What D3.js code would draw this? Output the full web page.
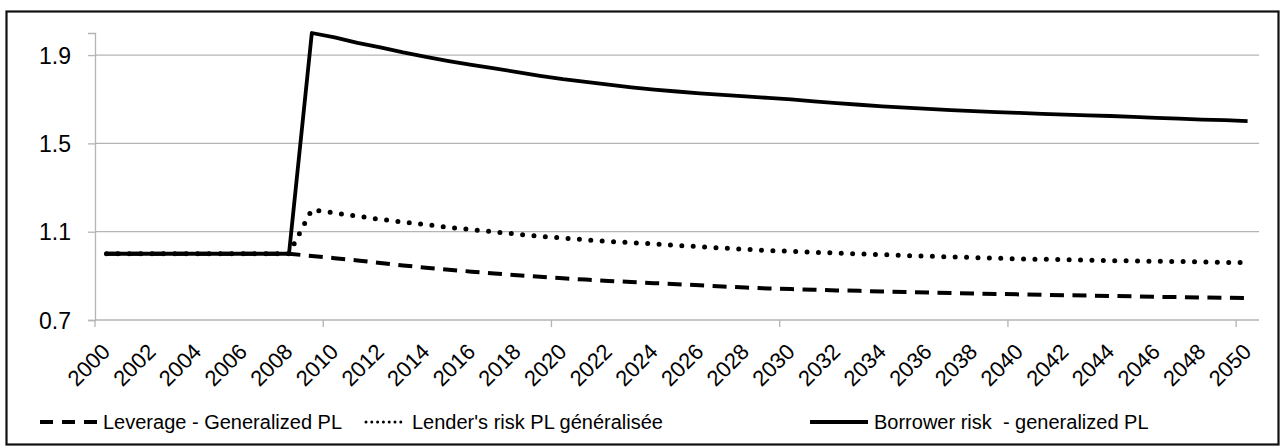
<!DOCTYPE html>
<html>
<head>
<meta charset="utf-8">
<script src="https://cdn.jsdelivr.net/npm/d3@7/dist/d3.min.js"></script>
<style>
  body { margin: 0; background: #fff; }
  svg text { font-family: "Liberation Sans", Arial, sans-serif; fill: #000; }
</style>
</head>
<body>
<svg id="chart" width="1280" height="446"></svg>
<script>
const years = d3.range(2000, 2051);
const yTicks = [0.7, 1.1, 1.5, 1.9];
const xLabelYears = years.filter(y => y % 2 === 0);
const xTickYears = [2000, 2010, 2020, 2030, 2040, 2050];

const leverage = [1, 1, 1, 1, 1, 1, 1, 1, 1,
  0.990, 0.980, 0.970, 0.958, 0.947, 0.937, 0.928, 0.919, 0.911, 0.903,
  0.896, 0.889, 0.883, 0.877, 0.872, 0.867, 0.862, 0.857, 0.852, 0.847,
  0.843, 0.840, 0.837, 0.834, 0.832, 0.829, 0.827, 0.825, 0.822, 0.820,
  0.818, 0.816, 0.814, 0.812, 0.811, 0.809, 0.807, 0.805, 0.804, 0.802,
  0.801, 0.799];
const lender = [1, 1, 1, 1, 1, 1, 1, 1, 1,
  1.200, 1.185, 1.170, 1.156, 1.143, 1.132, 1.120, 1.109, 1.099, 1.089,
  1.079, 1.071, 1.063, 1.056, 1.050, 1.045, 1.038, 1.032, 1.026, 1.020,
  1.015, 1.011, 1.007, 1.003, 0.999, 0.996, 0.992, 0.989, 0.986, 0.983,
  0.980, 0.977, 0.975, 0.973, 0.971, 0.969, 0.968, 0.966, 0.965, 0.963,
  0.961, 0.960];
const borrower = [1, 1, 1, 1, 1, 1, 1, 1, 1,
  2.000, 1.980, 1.955, 1.935, 1.912, 1.892, 1.873, 1.856, 1.840, 1.823,
  1.806, 1.791, 1.779, 1.766, 1.754, 1.744, 1.735, 1.727, 1.720, 1.713,
  1.706, 1.699, 1.690, 1.682, 1.675, 1.668, 1.662, 1.656, 1.651, 1.646,
  1.642, 1.638, 1.634, 1.630, 1.627, 1.624, 1.620, 1.616, 1.612, 1.608,
  1.605, 1.601];

const seriesNames = ["Leverage - Generalized PL", "Lender's risk PL généralisée", "Borrower risk  - generalized PL"];

const series = [
  { name: seriesNames[0], values: leverage, dash: "14 8.5", width: 4, cap: "butt",
    legDash: "13 9", legWidth: 3.8, legX: 40, legLen: 57 },
  { name: seriesNames[1], values: lender, dash: "0 11.4", width: 5, cap: "round",
    legDash: "0 5.8", legWidth: 3, legX: 366, legLen: 40 },
  { name: seriesNames[2], values: borrower, dash: null, width: 3.8, cap: "butt",
    legDash: null, legWidth: 3.8, legX: 810, legLen: 58 }
];

const svg = d3.select("#chart");
const plotLeft = 95, plotRight = 1259, plotTop = 33, plotBottom = 320;

const x = d3.scaleBand().domain(years).range([plotLeft, plotRight]);
const y = d3.scaleLinear().domain([0.7, 2.0]).range([plotBottom, plotTop]);
const cx = yr => x(yr) + x.bandwidth() / 2;

// outer border
svg.append("rect")
  .attr("x", 6.5).attr("y", 11.5)
  .attr("width", 1272).attr("height", 433)
  .attr("fill", "none").attr("stroke", "#111").attr("stroke-width", 2.2);

// gridlines
svg.append("g")
  .selectAll("line")
  .data(yTicks.filter(d => d > 0.7))
  .enter().append("line")
  .attr("x1", plotLeft).attr("x2", plotRight)
  .attr("y1", d => y(d)).attr("y2", d => y(d))
  .attr("stroke", "#b4b4b4").attr("stroke-width", 1.3);

// y axis
const yAxis = svg.append("g")
  .attr("transform", `translate(${plotLeft},0)`)
  .call(d3.axisLeft(y).tickValues(yTicks).tickSize(7).tickPadding(17).tickFormat(d3.format(".1f")));
yAxis.select(".domain").attr("stroke", "#b4b4b4").attr("stroke-width", 1.3);
yAxis.selectAll(".tick line").attr("stroke", "#b4b4b4").attr("stroke-width", 1.3);
yAxis.selectAll("text").style("font-size", "23px").attr("dy", "0.35em");

// x axis line and tick marks
svg.append("line")
  .attr("x1", plotLeft).attr("x2", plotRight)
  .attr("y1", plotBottom).attr("y2", plotBottom)
  .attr("stroke", "#b4b4b4").attr("stroke-width", 1.3);
svg.append("g")
  .selectAll("line")
  .data(xTickYears)
  .enter().append("line")
  .attr("x1", d => x(d)).attr("x2", d => x(d))
  .attr("y1", plotBottom).attr("y2", plotBottom + 7)
  .attr("stroke", "#b4b4b4").attr("stroke-width", 1.3);

// x labels, rotated
svg.append("g")
  .selectAll("text")
  .data(xLabelYears)
  .enter().append("text")
  .attr("transform", d => `translate(${cx(d) + 5},${plotBottom + 33}) rotate(-45)`)
  .attr("text-anchor", "end")
  .style("font-size", "22px")
  .text(d => d);

// lines
const line = d3.line()
  .x((d, i) => cx(years[i]))
  .y(d => y(d));

svg.append("g")
  .selectAll("path")
  .data(series)
  .enter().append("path")
  .attr("d", d => line(d.values))
  .attr("fill", "none")
  .attr("stroke", "#000")
  .attr("stroke-width", d => d.width)
  .attr("stroke-dasharray", d => d.dash)
  .attr("stroke-linecap", d => d.cap)
  .attr("stroke-linejoin", "round");

// legend
const legY = 422;
const leg = svg.append("g")
  .selectAll("g")
  .data(series)
  .enter().append("g");
leg.append("line")
  .attr("x1", d => d.legX).attr("x2", d => d.legX + d.legLen)
  .attr("y1", legY).attr("y2", legY)
  .attr("stroke", "#000")
  .attr("stroke-width", d => d.legWidth)
  .attr("stroke-dasharray", d => d.legDash)
  .attr("stroke-linecap", d => d.legDash && d.legDash.startsWith("0") ? "round" : "butt");
leg.append("text")
  .attr("x", d => d.legX + d.legLen + 6)
  .attr("y", legY + 7)
  .attr("xml:space", "preserve")
  .style("white-space", "pre")
  .style("font-size", "20px")
  .text(d => d.name);
</script>
</body>
</html>
